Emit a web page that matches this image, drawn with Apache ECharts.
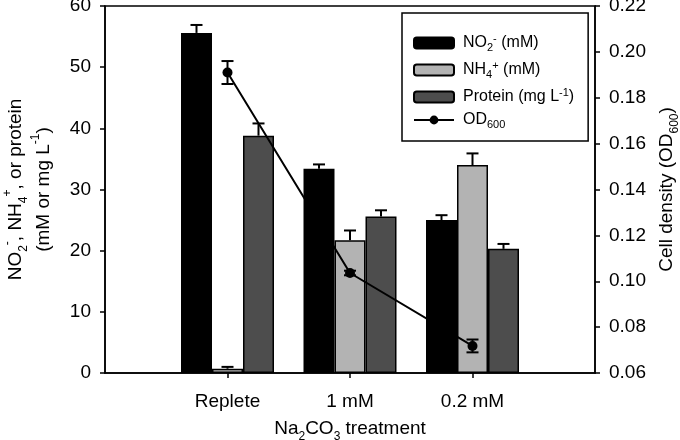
<!DOCTYPE html>
<html>
<head>
<meta charset="utf-8">
<script src="https://cdn.jsdelivr.net/npm/echarts@6/dist/echarts.min.js"></script>
<style>html,body{margin:0;padding:0;background:#fff}#c{width:680px;height:440px}</style>
</head>
<body>
<div id="c"></div>
<script>
// ---- data ----
const categories = ['Replete', '1 mM', '0.2 mM'];
const no2 = [55.6, 33.4, 25.0];
const no2Err = [1.3, 0.7, 0.8];
const nh4 = [0.7, 21.7, 34.0];
const nh4Err = [0.3, 1.6, 1.9];
const protein = [38.8, 25.6, 20.3];
const proteinErr = [2.0, 1.0, 0.8];
const od = [0.191, 0.1036, 0.0718];
const odErr = [0.005, 0.001, 0.0028];
const leftTicks = {min: 0, max: 60, interval: 10};
const rightTicks = {min: 0.06, max: 0.22, interval: 0.02};

// ---- build ----
const FONT = 'Liberation Sans, Arial, sans-serif';
const axisCats = [''].concat(categories, ['']);
const pad = arr => [null].concat(arr, [null]);
const BAR_W = 31;

const richBig = {
  m: {fontSize: 19, fontFamily: FONT, color: '#000', lineHeight: 28},
  sub: {fontSize: 12, fontFamily: FONT, color: '#000', verticalAlign: 'bottom', lineHeight: 12},
  sup: {fontSize: 12, fontFamily: FONT, color: '#000', verticalAlign: 'top', lineHeight: 12}
};
const richLeg = {
  m: {fontSize: 16, fontFamily: FONT, color: '#000', lineHeight: 20},
  sub: {fontSize: 11, fontFamily: FONT, color: '#000', verticalAlign: 'bottom', lineHeight: 10},
  sup: {fontSize: 11, fontFamily: FONT, color: '#000', verticalAlign: 'top', lineHeight: 10}
};

function errData(vals, errs) {
  return vals.map((v, i) => [i + 1, v, errs[i]]);
}
function barErrSeries(vals, errs, offset) {
  return {
    type: 'custom', z: 3, silent: true,
    data: errData(vals, errs),
    encode: {x: 0, y: 1},
    renderItem: function (params, api) {
      const x = api.value(0), v = api.value(1), e = api.value(2);
      const p0 = api.coord([x, v]);
      const p1 = api.coord([x, v + e]);
      const cx = p0[0] + offset;
      const st = {stroke: '#000', lineWidth: 2};
      return {type: 'group', children: [
        {type: 'line', shape: {x1: cx, y1: p0[1], x2: cx, y2: p1[1]}, style: st},
        {type: 'line', shape: {x1: cx - 6, y1: p1[1], x2: cx + 6, y2: p1[1]}, style: st}
      ]};
    }
  };
}

const option = {
  animation: false,
  backgroundColor: '#fff',
  textStyle: {fontFamily: FONT},
  grid: {left: 105, right: 85, top: 6, bottom: 67, show: true, borderColor: '#000', borderWidth: 1.5,
    containLabel: false, outerBoundsMode: 'none'},
  legend: {
    orient: 'vertical', left: 402, top: 13,
    padding: [20, 14, 11, 11],
    backgroundColor: '#fff', borderColor: '#000', borderWidth: 1.5,
    itemWidth: 40, itemHeight: 11, itemGap: 7,
    data: ['NO2', 'NH4', 'Protein', 'OD600'],
    textStyle: {rich: richLeg, padding: [0, 0, 0, 4]},
    formatter: function (name) {
      if (name === 'NO2') return '{m|NO}{sub|2}{sup|-}{m| (mM)}';
      if (name === 'NH4') return '{m|NH}{sub|4}{sup|+}{m| (mM)}';
      if (name === 'Protein') return '{m|Protein (mg L}{sup|-1}{m|)}';
      return '{m|OD}{sub|600}';
    }
  },
  xAxis: {
    type: 'category', data: axisCats, boundaryGap: false,
    axisLine: {lineStyle: {color: '#000', width: 1.5}},
    axisTick: {length: 5, lineStyle: {color: '#000', width: 1.5}, interval: (i) => i >= 1 && i <= categories.length},
    axisLabel: {interval: (i) => i >= 1 && i <= categories.length, color: '#000', fontSize: 19, fontFamily: FONT, margin: 19},
    splitLine: {show: false},
    name: '{m|Na}{sub|2}{m|CO}{sub|3}{m| treatment}',
    nameLocation: 'middle', nameGap: 42,
    nameTextStyle: {rich: richBig}
  },
  yAxis: [
    {
      type: 'value', min: leftTicks.min, max: leftTicks.max, interval: leftTicks.interval,
      axisLine: {show: true, lineStyle: {color: '#000', width: 1.5}},
      axisTick: {show: true, length: 5, lineStyle: {color: '#000', width: 1.5}},
      axisLabel: {color: '#000', fontSize: 19, fontFamily: FONT, margin: 14},
      splitLine: {show: false},
      name: '{m|NO}{sub|2}{sup|-}{m|, NH}{sub|4}{sup|+}{m|, or protein}\n{m|(mM or mg L}{sup|-1}{m|)}',
      nameLocation: 'middle', nameGap: 47,
      nameTextStyle: {rich: richBig, align: 'center'}
    },
    {
      type: 'value', min: rightTicks.min, max: rightTicks.max, interval: rightTicks.interval,
      position: 'right',
      axisLine: {show: true, lineStyle: {color: '#000', width: 1.5}},
      axisTick: {show: true, length: 5, lineStyle: {color: '#000', width: 1.5}},
      axisLabel: {color: '#000', fontSize: 19, fontFamily: FONT, margin: 14, formatter: v => v.toFixed(2)},
      splitLine: {show: false},
      name: '{m|Cell density (OD}{sub|600}{m|)}',
      nameLocation: 'middle', nameGap: 56,
      nameTextStyle: {rich: richBig}
    }
  ],
  series: [
    {name: 'NO2', type: 'bar', data: pad(no2), barWidth: BAR_W, barGap: '0%',
      itemStyle: {color: '#000', borderColor: '#000', borderWidth: 1.5}},
    {name: 'NH4', type: 'bar', data: pad(nh4), barWidth: BAR_W, barGap: '0%',
      itemStyle: {color: '#b3b3b3', borderColor: '#000', borderWidth: 1.5}},
    {name: 'Protein', type: 'bar', data: pad(protein), barWidth: BAR_W, barGap: '0%',
      itemStyle: {color: '#4d4d4d', borderColor: '#000', borderWidth: 1.5}},
    barErrSeries(no2, no2Err, -BAR_W),
    barErrSeries(nh4, nh4Err, 0),
    barErrSeries(protein, proteinErr, BAR_W),
    {name: 'OD600', type: 'line', yAxisIndex: 1, z: 5, data: pad(od),
      symbol: 'circle', symbolSize: 10,
      lineStyle: {color: '#000', width: 2}, itemStyle: {color: '#000'}},
    {type: 'custom', yAxisIndex: 1, z: 6, silent: true,
      data: od.map((v, i) => [i + 1, v, odErr[i]]),
      encode: {x: 0, y: 1},
      renderItem: function (params, api) {
        const x = api.value(0), v = api.value(1), e = api.value(2);
        const pt = api.coord([x, v + e]);
        const pb = api.coord([x, v - e]);
        const cx = pt[0];
        const st = {stroke: '#000', lineWidth: 2};
        return {type: 'group', children: [
          {type: 'line', shape: {x1: cx, y1: pt[1], x2: cx, y2: pb[1]}, style: st},
          {type: 'line', shape: {x1: cx - 6, y1: pt[1], x2: cx + 6, y2: pt[1]}, style: st},
          {type: 'line', shape: {x1: cx - 6, y1: pb[1], x2: cx + 6, y2: pb[1]}, style: st}
        ]};
      }
    }
  ]
};
const chart = echarts.init(document.getElementById('c'), null, {renderer: 'canvas'});
chart.setOption(option);
</script>
</body>
</html>
